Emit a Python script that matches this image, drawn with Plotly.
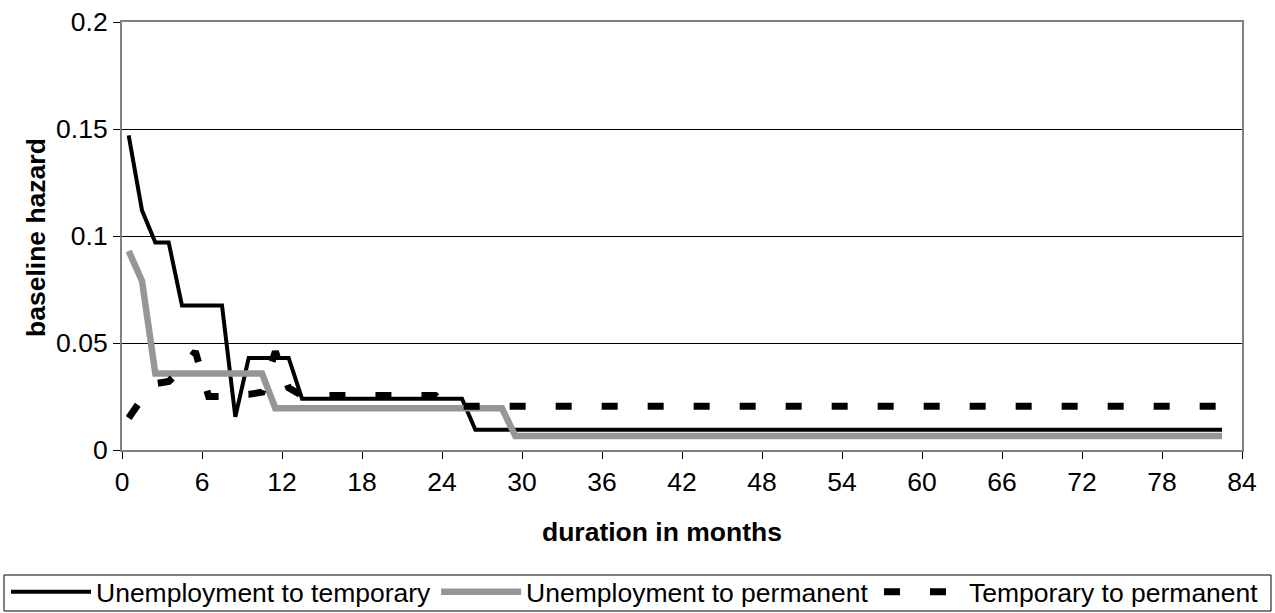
import plotly.graph_objects as go

# duration (months) at which each hazard value is plotted (mid-month)
months = [m + 0.5 for m in range(83)]

unemp_to_temp = [
    0.147, 0.112, 0.097, 0.097, 0.0675, 0.0675, 0.0675, 0.0675, 0.0155, 0.043,
    0.043, 0.043, 0.043, 0.024, 0.024, 0.024, 0.024, 0.024, 0.024, 0.024,
    0.024, 0.024, 0.024, 0.024, 0.024, 0.024, 0.0095, 0.0095, 0.0095, 0.0095,
    0.0095, 0.0095, 0.0095, 0.0095, 0.0095, 0.0095, 0.0095, 0.0095, 0.0095, 0.0095,
    0.0095, 0.0095, 0.0095, 0.0095, 0.0095, 0.0095, 0.0095, 0.0095, 0.0095, 0.0095,
    0.0095, 0.0095, 0.0095, 0.0095, 0.0095, 0.0095, 0.0095, 0.0095, 0.0095, 0.0095,
    0.0095, 0.0095, 0.0095, 0.0095, 0.0095, 0.0095, 0.0095, 0.0095, 0.0095, 0.0095,
    0.0095, 0.0095, 0.0095, 0.0095, 0.0095, 0.0095, 0.0095, 0.0095, 0.0095, 0.0095,
    0.0095, 0.0095, 0.0095,
]

unemp_to_perm = [
    0.093, 0.079, 0.0358, 0.0358, 0.0358, 0.0358, 0.0358, 0.0358, 0.0358, 0.0358,
    0.0358, 0.0195, 0.0195, 0.0195, 0.0195, 0.0195, 0.0195, 0.0195, 0.0195, 0.0195,
    0.0195, 0.0195, 0.0195, 0.0195, 0.0195, 0.0195, 0.0195, 0.0195, 0.0195, 0.0065,
    0.0065, 0.0065, 0.0065, 0.0065, 0.0065, 0.0065, 0.0065, 0.0065, 0.0065, 0.0065,
    0.0065, 0.0065, 0.0065, 0.0065, 0.0065, 0.0065, 0.0065, 0.0065, 0.0065, 0.0065,
    0.0065, 0.0065, 0.0065, 0.0065, 0.0065, 0.0065, 0.0065, 0.0065, 0.0065, 0.0065,
    0.0065, 0.0065, 0.0065, 0.0065, 0.0065, 0.0065, 0.0065, 0.0065, 0.0065, 0.0065,
    0.0065, 0.0065, 0.0065, 0.0065, 0.0065, 0.0065, 0.0065, 0.0065, 0.0065, 0.0065,
    0.0065, 0.0065, 0.0065,
]

temp_to_perm = [
    0.015, 0.024, 0.031, 0.032, 0.038, 0.046, 0.025, 0.025, 0.026, 0.026,
    0.027, 0.046, 0.029, 0.0255, 0.0255, 0.0255, 0.0255, 0.0255, 0.0255, 0.0255,
    0.0255, 0.0255, 0.0255, 0.0255, 0.0205, 0.0205, 0.0205, 0.0205, 0.0205, 0.0205,
    0.0205, 0.0205, 0.0205, 0.0205, 0.0205, 0.0205, 0.0205, 0.0205, 0.0205, 0.0205,
    0.0205, 0.0205, 0.0205, 0.0205, 0.0205, 0.0205, 0.0205, 0.0205, 0.0205, 0.0205,
    0.0205, 0.0205, 0.0205, 0.0205, 0.0205, 0.0205, 0.0205, 0.0205, 0.0205, 0.0205,
    0.0205, 0.0205, 0.0205, 0.0205, 0.0205, 0.0205, 0.0205, 0.0205, 0.0205, 0.0205,
    0.0205, 0.0205, 0.0205, 0.0205, 0.0205, 0.0205, 0.0205, 0.0205, 0.0205, 0.0205,
    0.0205, 0.0205, 0.0205,
]

series_names = ["Unemployment to temporary", "Unemployment to permanent", "Temporary to permanent"]
x_ticks = [0, 6, 12, 18, 24, 30, 36, 42, 48, 54, 60, 66, 72, 78, 84]
y_ticks = [0, 0.05, 0.1, 0.15, 0.2]
y_tick_labels = ["0", "0.05", "0.1", "0.15", "0.2"]

FONT = "Liberation Sans, Arial, sans-serif"
FS = 26.5
W, H = 1275, 613
ML, MR, MT, MB = 122, 33, 22, 163
PW, PH = W - ML - MR, H - MT - MB


def px_to_paper_x(px):
    return (px - ML) / PW


def px_to_paper_y(py):
    return (H - MB - py) / PH


fig = go.Figure()
fig.add_trace(go.Scatter(x=months, y=unemp_to_temp, mode="lines", name=series_names[0],
                         line=dict(color="#000000", width=4), legend="legend"))
fig.add_trace(go.Scatter(x=months, y=unemp_to_perm, mode="lines", name=series_names[1],
                         line=dict(color="#969696", width=6.5), legend="legend"))
fig.add_trace(go.Scatter(x=months, y=temp_to_perm, mode="lines", name=series_names[2],
                         line=dict(color="#000000", width=7, dash="16px,30px"), legend="legend2"))

legend_common = dict(
    orientation="h", xref="paper", yref="paper", xanchor="left",
    y=px_to_paper_y(568), yanchor="top",
    borderwidth=0, bgcolor="rgba(0,0,0,0)",
    font=dict(family=FONT, size=FS, color="#000000"),
    itemwidth=80, tracegroupgap=0,
)

fig.update_layout(
    width=W, height=H,
    margin=dict(l=ML, r=MR, t=MT, b=MB, autoexpand=False),
    paper_bgcolor="white", plot_bgcolor="white",
    font=dict(family=FONT, size=FS, color="#000000"),
    showlegend=True,
    legend=dict(x=px_to_paper_x(6), **legend_common),
    legend2=dict(x=px_to_paper_x(879), **legend_common),
    shapes=[
        dict(type="rect", xref="paper", yref="paper",
             x0=px_to_paper_x(4), x1=px_to_paper_x(1271),
             y0=px_to_paper_y(611), y1=px_to_paper_y(575),
             line=dict(color="#000000", width=1), fillcolor="rgba(0,0,0,0)", layer="below"),
    ],
    annotations=[
        dict(text="<b>duration in months</b>", xref="paper", yref="paper",
             x=px_to_paper_x(662), y=px_to_paper_y(532), xanchor="center", yanchor="middle",
             showarrow=False, font=dict(family=FONT, size=FS, color="#000000")),
        dict(text="<b>baseline hazard</b>", xref="paper", yref="paper",
             x=px_to_paper_x(36), y=px_to_paper_y(238), xanchor="center", yanchor="middle",
             showarrow=False, textangle=-90, font=dict(family=FONT, size=FS, color="#000000")),
    ],
)

fig.update_xaxes(
    range=[0, 84], tickvals=x_ticks, ticktext=[str(t) for t in x_ticks],
    showgrid=False, zeroline=False,
    showline=True, linecolor="#808080", linewidth=2, mirror=True,
    ticks="outside", ticklen=7, tickwidth=1, tickcolor="#000000",
    tickfont=dict(family=FONT, size=FS, color="#000000"),
)
fig.update_yaxes(
    range=[0, 0.2], tickvals=y_ticks, ticktext=y_tick_labels,
    showgrid=True, gridcolor="#000000", gridwidth=1, zeroline=False,
    showline=True, linecolor="#808080", linewidth=2, mirror=True,
    ticks="outside", ticklen=7, tickwidth=1, tickcolor="#000000",
    tickfont=dict(family=FONT, size=FS, color="#000000"),
)

fig.write_html("out.html", config={"displayModeBar": False},
               post_script="document.body.style.margin='0px';document.body.style.overflow='hidden';")
